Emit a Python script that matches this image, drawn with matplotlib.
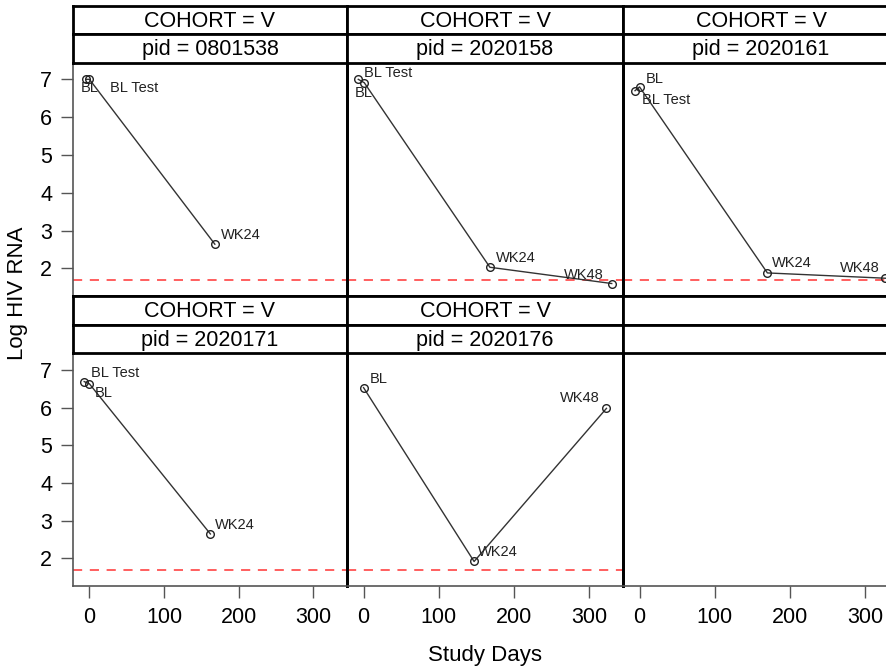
import matplotlib
matplotlib.use('Agg')
import matplotlib.pyplot as plt

plt.rcParams['font.family'] = ['Liberation Sans', 'DejaVu Sans']

# one entry per subject panel
cohorts = ['V', 'V', 'V', 'V', 'V']
pids = ['0801538', '2020158', '2020161', '2020171', '2020176']
days = [
    [-5, 0, 168],
    [-7, 1, 168, 330],
    [-6, 0, 170, 327],
    [-7, 0, 162],
    [0, 147, 323],
]
log_rna = [
    [7.00, 7.00, 2.64],
    [7.00, 6.91, 2.03, 1.60],
    [6.70, 6.80, 1.88, 1.74],
    [6.69, 6.63, 2.65],
    [6.53, 1.92, 5.98],
]
visits = [
    ['BL Test', 'BL', 'WK24'],
    ['BL Test', 'BL', 'WK24', 'WK48'],
    ['BL Test', 'BL', 'WK24', 'WK48'],
    ['BL Test', 'BL', 'WK24'],
    ['BL', 'WK24', 'WK48'],
]
lloq = 1.7  # log10(50)
x_ticks = [0, 100, 200, 300]
y_ticks = [2, 3, 4, 5, 6, 7]

# label placement (pixel offsets, alignment) per point
label_pos = [
    [(24, -9, 'left'), (0, -9, 'center'), (6, 9, 'left')],
    [(6, 6, 'left'), (-1, -10, 'center'), (6, 9, 'left'), (-8, 9, 'right')],
    [(7, -9, 'left'), (6, 8, 'left'), (5, 10, 'left'), (-6, 10, 'right')],
    [(7, 9, 'left'), (5, -9, 'left'), (5, 9, 'left')],
    [(6, 9, 'left'), (4, 9, 'left'), (-7, 10, 'right')],
]

W, H = 886, 671
fig = plt.figure(figsize=(W / 100, H / 100), dpi=100)

col_x = [73, 347, 623, 899]
rows = [  # strip1 top, strip2 top, plot top, plot bottom
    (5.7, 33.7, 62.7, 296),
    (296, 324.5, 353.3, 586),
]
GRAY = '#555555'


def box(x0, x1, y0, y1):
    return fig.add_axes([x0 / W, 1 - y1 / H, (x1 - x0) / W, (y1 - y0) / H])


# plot areas first, header strips drawn on top of them
for r in range(2):
    s1, s2, p0, p1 = rows[r]
    for c in range(3):
        k = r * 3 + c
        x0, x1 = col_x[c], col_x[c + 1]

        ax = box(x0, x1, p0, p1)
        ax.patch.set_visible(False)
        ax.set_xlim(-22, 345)
        ax.set_ylim(1.27, 7.44)
        ax.spines['top'].set_visible(False)
        for side in ['left', 'right', 'bottom']:
            ax.spines[side].set_color('black')
            ax.spines[side].set_linewidth(2)
        if c == 0:
            ax.spines['left'].set_color(GRAY)
            ax.spines['left'].set_linewidth(1.2)
        if r == 1:
            ax.spines['bottom'].set_color(GRAY)
            ax.spines['bottom'].set_linewidth(1.2)

        ax.tick_params(direction='out', length=8.5, width=1, color=GRAY,
                       labelsize=15.5, pad=6.5)
        ax.set_xticks(x_ticks)
        ax.set_yticks(y_ticks)
        if c != 0:
            ax.tick_params(axis='y', left=False, labelleft=False)
        if r != 1:
            ax.tick_params(axis='x', bottom=False, labelbottom=False)

        if k >= 5:
            continue

        ax.axhline(lloq, color='#ff3333', lw=1.1, dashes=(6, 5))
        ax.plot(days[k], log_rna[k], color='#333333', lw=1,
                marker='o', ms=5.5, mfc='none', mec='#222222', mew=1)
        for xv, yv, lab, (dx, dy, ha) in zip(days[k], log_rna[k], visits[k], label_pos[k]):
            ax.annotate(lab, (xv, yv), xytext=(dx, dy), textcoords='offset pixels',
                        ha=ha, va='center', fontsize=10.5, color='#222222')

for r in range(2):
    s1, s2, p0, p1 = rows[r]
    for c in range(3):
        k = r * 3 + c
        x0, x1 = col_x[c], col_x[c + 1]
        strips = [f'COHORT = {cohorts[k]}', f'pid = {pids[k]}'] if k < 5 else ['', '']
        for (ya, yb), txt in zip([(s1, s2), (s2, p0)], strips):
            hx = box(x0, x1, ya, yb)
            hx.set_xticks([])
            hx.set_yticks([])
            for sp in hx.spines.values():
                sp.set_color('black')
                sp.set_linewidth(2)
            hx.text(0.5, 0.45, txt, ha='center', va='center', fontsize=15.5,
                    transform=hx.transAxes)

fig.text(18 / W, 1 - 293 / H, 'Log HIV RNA', rotation=90, ha='center',
         va='center', fontsize=16)
fig.text(485 / W, 1 - 656 / H, 'Study Days', ha='center', va='center',
         fontsize=16)

fig.savefig('out.png', dpi=100)
